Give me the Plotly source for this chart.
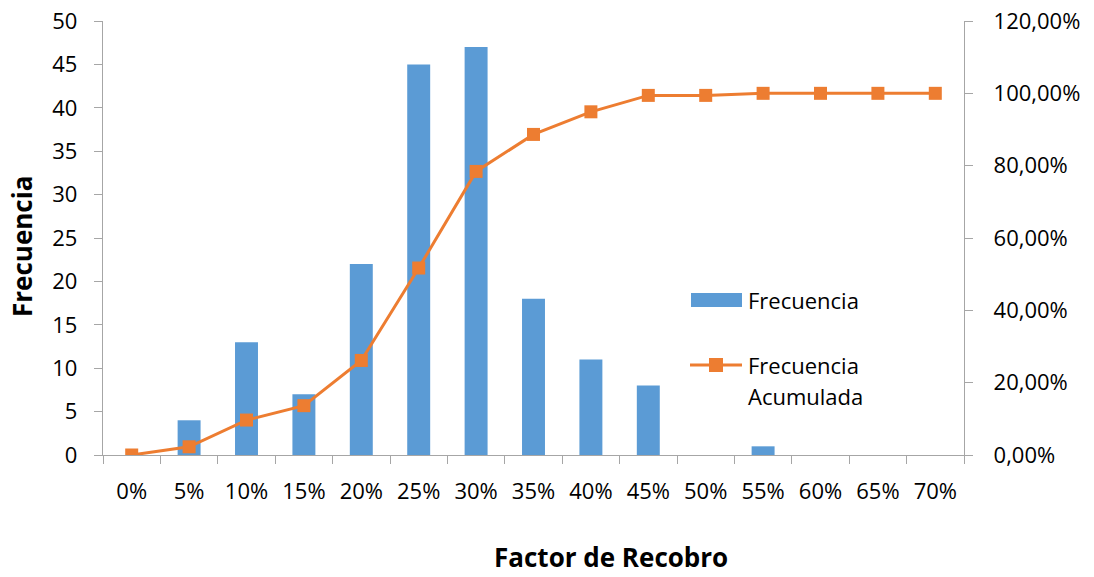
import plotly.graph_objects as go

# Recovery-factor classes and counts
categorias = ["0%", "5%", "10%", "15%", "20%", "25%", "30%", "35%",
              "40%", "45%", "50%", "55%", "60%", "65%", "70%"]
frecuencia = [0, 4, 13, 7, 22, 45, 47, 18, 11, 8, 0, 1, 0, 0, 0]
frecuencia_acumulada = [0.0, 0.0227, 0.0966, 0.1364, 0.2614, 0.5170, 0.7841,
                        0.8864, 0.9489, 0.9943, 0.9943, 1.0, 1.0, 1.0, 1.0]

AZUL = "#5B9BD5"
NARANJA = "#ED7D31"
EJE = "#a6a6a6"
FUENTE = "'Open Sans', sans-serif"
TAM = 22
TAM_TITULO = 26

fig = go.Figure()
fig.add_trace(go.Bar(
    x=categorias, y=frecuencia, name="Frecuencia",
    marker=dict(color=AZUL, line=dict(width=0)), yaxis="y",
    showlegend=False,
))
fig.add_trace(go.Scatter(
    x=categorias, y=frecuencia_acumulada, name="Frecuencia Acumulada",
    mode="lines+markers", yaxis="y2",
    line=dict(color=NARANJA, width=3),
    marker=dict(symbol="square", size=13, color=NARANJA),
    showlegend=False,
))

W, H = 1094, 577
L, R, T, B = 103, 130, 21, 122
pw, ph = W - L - R, H - T - B

def px(xp):
    return (xp - L) / pw

def py(yp):
    return (H - B - yp) / ph

fig.update_layout(
    width=W, height=H,
    margin=dict(l=L, r=R, t=T, b=B, autoexpand=False),
    paper_bgcolor="white", plot_bgcolor="white",
    separators=",.",
    font=dict(family=FUENTE, size=TAM, color="#000000"),
    bargap=0.6,
    xaxis=dict(
        type="category", range=[-0.5, len(categorias) - 0.5],
        tickson="boundaries", ticks="outside", ticklen=8,
        tickcolor=EJE, showline=True, linecolor=EJE, linewidth=1.3,
        showgrid=False, ticklabelstandoff=16, automargin=False,
    ),
    yaxis=dict(
        range=[0, 50], dtick=5, ticks="outside", ticklen=8, tickcolor=EJE,
        showline=True, linecolor=EJE, linewidth=1.3, showgrid=False,
        zeroline=False, ticklabelstandoff=12, automargin=False,
    ),
    yaxis2=dict(
        range=[0, 1.2], dtick=0.2, tickformat=".2%", overlaying="y",
        side="right", ticks="outside", ticklen=8, tickcolor=EJE,
        showline=True, linecolor=EJE, linewidth=1.3, showgrid=False,
        zeroline=False, ticklabelstandoff=16, automargin=False,
    ),
    showlegend=False,
)

# Axis titles
fig.add_annotation(
    text="<b>Frecuencia</b>", xref="paper", yref="paper",
    x=px(22), y=py(247), xanchor="center", yanchor="middle",
    textangle=-90, showarrow=False,
    font=dict(size=TAM_TITULO, family=FUENTE),
)
fig.add_annotation(
    text="<b>Factor de Recobro</b>", xref="paper", yref="paper",
    x=px(611), y=py(577), xanchor="center", yanchor="bottom",
    showarrow=False, font=dict(size=TAM_TITULO, family=FUENTE),
)

# Legend block
fig.add_shape(type="rect", xref="paper", yref="paper",
              x0=px(691), x1=px(742), y0=py(293), y1=py(307),
              fillcolor=AZUL, line=dict(width=0))
fig.add_shape(type="line", xref="paper", yref="paper",
              x0=px(690), x1=px(742), y0=py(365), y1=py(365),
              line=dict(color=NARANJA, width=3))
fig.add_shape(type="rect", xref="paper", yref="paper",
              x0=px(709), x1=px(723), y0=py(358), y1=py(372),
              fillcolor=NARANJA, line=dict(width=0))
for texto, yp in [("Frecuencia", 300), ("Frecuencia", 365), ("Acumulada", 396)]:
    fig.add_annotation(text=texto, xref="paper", yref="paper",
                       x=px(746), y=py(yp), xanchor="left", yanchor="middle",
                       showarrow=False, font=dict(size=TAM, family=FUENTE))

fig.write_html("out.html")
